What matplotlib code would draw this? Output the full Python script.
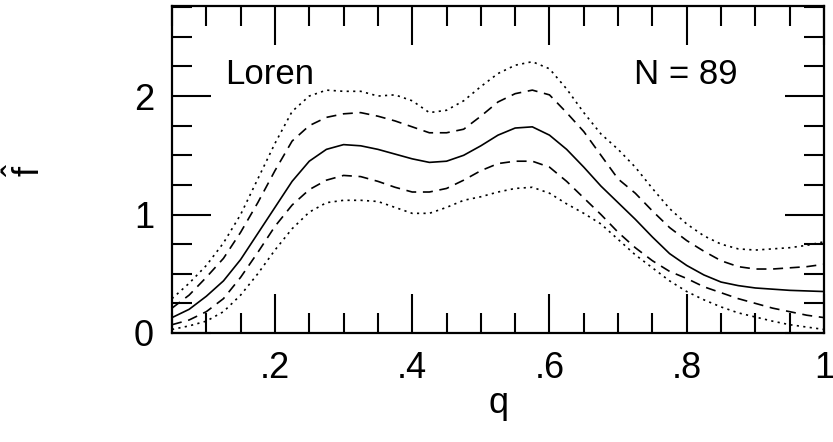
import numpy as np
import matplotlib
matplotlib.use("Agg")
import matplotlib.pyplot as plt
from matplotlib.ticker import MultipleLocator, FixedLocator

plt.rcParams['font.family'] = ['Liberation Sans', 'DejaVu Sans']
plt.rcParams['mathtext.fontset'] = 'custom'
plt.rcParams['mathtext.rm'] = 'Liberation Sans'
plt.rcParams['mathtext.it'] = 'Liberation Sans'

q = [0.05, 0.075, 0.10, 0.125, 0.15, 0.175, 0.20, 0.225, 0.25, 0.275,
     0.30, 0.325, 0.35, 0.375, 0.40, 0.425, 0.45, 0.475, 0.50, 0.525,
     0.55, 0.575, 0.60, 0.625, 0.65, 0.675, 0.70, 0.725, 0.75, 0.775,
     0.80, 0.825, 0.85, 0.875, 0.90, 0.925, 0.95, 0.975, 1.00]

f_hat = [0.13, 0.20, 0.31, 0.44, 0.62, 0.84, 1.06, 1.28, 1.45, 1.55,
         1.59, 1.58, 1.55, 1.51, 1.47, 1.44, 1.45, 1.50, 1.58, 1.67,
         1.73, 1.74, 1.67, 1.55, 1.40, 1.24, 1.10, 0.96, 0.81, 0.67,
         0.57, 0.49, 0.43, 0.40, 0.38, 0.37, 0.36, 0.355, 0.35]

upper_dash = [0.21, 0.32, 0.47, 0.63, 0.85, 1.10, 1.37, 1.62, 1.75, 1.82,
              1.85, 1.86, 1.83, 1.79, 1.74, 1.69, 1.69, 1.72, 1.83, 1.95,
              2.02, 2.05, 2.01, 1.86, 1.70, 1.50, 1.30, 1.18, 1.03, 0.89,
              0.78, 0.69, 0.61, 0.56, 0.54, 0.54, 0.55, 0.56, 0.58]

lower_dash = [0.07, 0.11, 0.18, 0.29, 0.47, 0.68, 0.90, 1.08, 1.21, 1.29,
              1.33, 1.32, 1.28, 1.23, 1.19, 1.19, 1.22, 1.29, 1.37, 1.43,
              1.45, 1.45, 1.40, 1.28, 1.14, 1.00, 0.85, 0.72, 0.61, 0.52,
              0.46, 0.39, 0.34, 0.29, 0.25, 0.21, 0.18, 0.15, 0.13]

upper_dot = [0.29, 0.42, 0.57, 0.76, 1.00, 1.30, 1.60, 1.87, 2.00, 2.05,
             2.04, 2.04, 2.00, 2.01, 1.96, 1.86, 1.88, 1.96, 2.08, 2.19,
             2.26, 2.29, 2.23, 2.06, 1.86, 1.68, 1.55, 1.40, 1.22, 1.05,
             0.92, 0.82, 0.75, 0.71, 0.70, 0.71, 0.72, 0.74, 0.77]

lower_dot = [0.03, 0.06, 0.10, 0.18, 0.32, 0.50, 0.70, 0.88, 1.02, 1.10,
             1.12, 1.12, 1.11, 1.06, 1.01, 1.01, 1.06, 1.12, 1.15, 1.19,
             1.22, 1.23, 1.18, 1.09, 1.01, 0.92, 0.79, 0.66, 0.55, 0.44,
             0.35, 0.28, 0.22, 0.17, 0.135, 0.10, 0.07, 0.05, 0.03]

xticks = [0.2, 0.4, 0.6, 0.8, 1.0]
xticklabels = ['.2', '.4', '.6', '.8', '1']
yticks = [0, 1, 2]
yticklabels = ['0', '1', '2']

fig = plt.figure(figsize=(8.33, 4.42), dpi=100)
ax = fig.add_axes([172/833, 1 - 333/442, (824-172)/833, (333-6)/442])

lw = 1.2
ax.plot(q, f_hat, color='black', lw=lw, solid_joinstyle='round')
ax.plot(q, upper_dash, color='black', lw=lw, dashes=(6, 4))
ax.plot(q, lower_dash, color='black', lw=lw, dashes=(6, 4))
ax.plot(q, upper_dot, color='black', lw=lw, dashes=(1.3, 2.6))
ax.plot(q, lower_dot, color='black', lw=lw, dashes=(1.3, 2.6))

ax.set_xlim(0.05, 1.0)
ax.set_ylim(0, 2.76)

ax.xaxis.set_major_locator(FixedLocator(xticks))
ax.set_xticklabels(xticklabels)
ax.xaxis.set_minor_locator(MultipleLocator(0.05))
ax.yaxis.set_major_locator(FixedLocator(yticks))
ax.set_yticklabels(yticklabels)
ax.yaxis.set_minor_locator(MultipleLocator(0.25))

ax.tick_params(which='both', direction='in', top=True, right=True,
               width=1.5, colors='black')
ax.tick_params(which='major', length=28, labelsize=26, pad=13)
ax.tick_params(which='minor', length=14.5)
for s in ax.spines.values():
    s.set_linewidth(1.6)

ax.set_xlabel('q', fontsize=26, labelpad=0)
ax.set_ylabel(r'$\hat{\mathrm{f}}$', fontsize=26, labelpad=62)

ax.text(0.127, 2.18, 'Loren', fontsize=25, ha='left', va='center')
ax.text(0.798, 2.18, 'N = 89', fontsize=25, ha='center', va='center')

fig.savefig('out.png', dpi=100)
